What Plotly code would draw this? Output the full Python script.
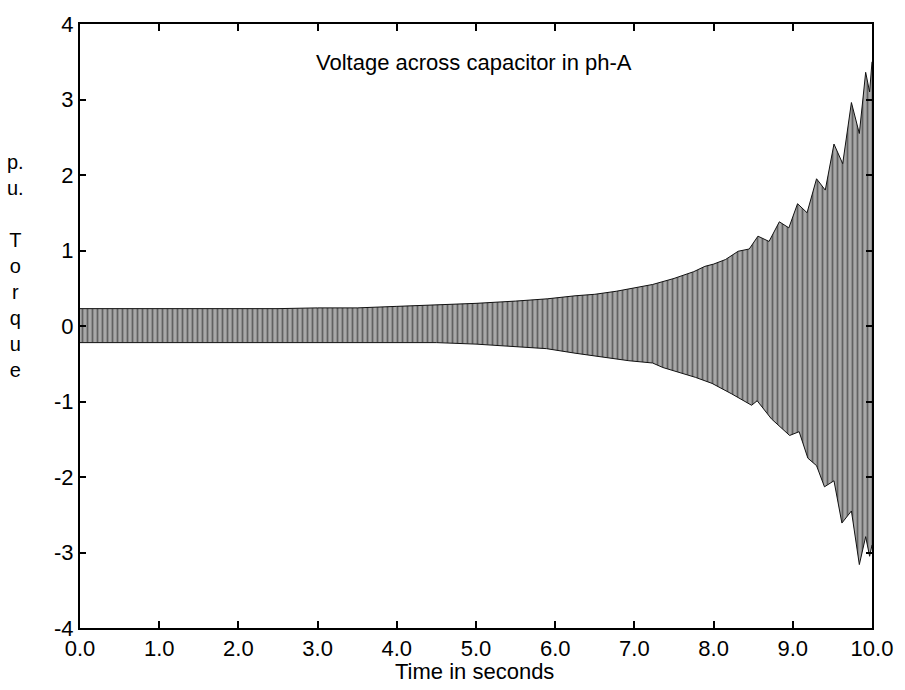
import plotly.graph_objects as go

# Envelope of the oscillating capacitor voltage
t_upper = [0.0, 0.5, 1.0, 1.5, 2.0, 2.5, 3.0, 3.5, 4.0, 4.5, 5.0, 5.5, 5.9, 6.25, 6.5,
           6.77, 7.0, 7.23, 7.5, 7.75, 7.89, 8.0, 8.15, 8.31, 8.45, 8.56, 8.7, 8.83,
           8.95, 9.06, 9.18, 9.30, 9.41, 9.52, 9.63, 9.74, 9.84, 9.92, 9.97, 10.0]
v_upper = [0.23, 0.23, 0.23, 0.23, 0.23, 0.23, 0.24, 0.24, 0.26, 0.28, 0.30, 0.33, 0.36, 0.40, 0.42,
           0.46, 0.50, 0.55, 0.63, 0.72, 0.79, 0.82, 0.88, 0.99, 1.02, 1.19, 1.12, 1.38,
           1.30, 1.62, 1.50, 1.95, 1.80, 2.41, 2.15, 2.96, 2.55, 3.36, 3.10, 3.50]

t_lower = [0.0, 0.5, 1.0, 1.5, 2.0, 2.5, 3.0, 3.5, 4.0, 4.5, 5.0, 5.5, 5.89, 6.25, 6.68,
           6.93, 7.23, 7.36, 7.77, 7.98, 8.23, 8.48, 8.55, 8.73, 8.96, 9.08, 9.19,
           9.30, 9.40, 9.52, 9.62, 9.74, 9.84, 9.92, 9.97, 10.0]
v_lower = [-0.22, -0.22, -0.22, -0.22, -0.22, -0.22, -0.22, -0.22, -0.22, -0.22, -0.24, -0.27, -0.30, -0.36, -0.42,
           -0.46, -0.49, -0.55, -0.68, -0.76, -0.90, -1.05, -0.99, -1.23, -1.45, -1.40, -1.75,
           -1.85, -2.13, -2.05, -2.61, -2.45, -3.16, -2.79, -3.05, -2.90]

x_ticks = [0, 1, 2, 3, 4, 5, 6, 7, 8, 9, 10]
x_tick_labels = ["0.0", "1.0", "2.0", "3.0", "4.0", "5.0", "6.0", "7.0", "8.0", "9.0", "10.0"]
y_ticks = [-4, -3, -2, -1, 0, 1, 2, 3, 4]
y_tick_labels = ["-4", "-3", "-2", "-1", "0", "1", "2", "3", "4"]

FONT = "Liberation Sans, Arial, sans-serif"

fig = go.Figure()
fig.add_trace(go.Scatter(x=t_lower, y=v_lower, mode="lines",
                         line=dict(color="#111111", width=1), showlegend=False))
fig.add_trace(go.Scatter(x=t_upper, y=v_upper, mode="lines", fill="tonexty",
                         fillcolor="#9a9a9a",
                         fillpattern=dict(shape="|", fgcolor="#1a1a1a", bgcolor="#a8a8a8",
                                          size=5, solidity=0.35),
                         line=dict(color="#111111", width=1), showlegend=False))

fig.update_layout(
    width=905, height=690,
    margin=dict(l=80, r=27, t=21, b=62),
    paper_bgcolor="white", plot_bgcolor="white",
    font=dict(family=FONT, size=22, color="black"),
    showlegend=False,
)
fig.update_xaxes(range=[0, 10], tickvals=x_ticks, ticktext=x_tick_labels,
                 ticks="inside", ticklen=7, tickwidth=1.5, tickcolor="black",
                 showline=True, linecolor="black", linewidth=2, mirror="ticks",
                 showgrid=False, zeroline=False,
                 tickfont=dict(family=FONT, size=22, color="black"))
fig.update_yaxes(range=[-4, 4], tickvals=y_ticks, ticktext=y_tick_labels,
                 ticks="inside", ticklen=6, tickwidth=1.5, tickcolor="black",
                 showline=True, linecolor="black", linewidth=2, mirror="ticks",
                 showgrid=False, zeroline=False,
                 tickfont=dict(family=FONT, size=22, color="black"))

fig.add_annotation(text="Voltage across capacitor in ph-A", xref="paper", yref="paper",
                   x=0.497, y=0.936, xanchor="center", yanchor="middle", showarrow=False,
                   font=dict(family=FONT, size=22, color="black"))
fig.add_annotation(text="Time in seconds", xref="paper", yref="paper",
                   x=0.498, y=-0.0725, xanchor="center", yanchor="middle", showarrow=False,
                   font=dict(family=FONT, size=22, color="black"))
fig.add_annotation(text="p.<br>u.<br> <br>T<br>o<br>r<br>q<br>u<br>e", xref="paper", yref="paper",
                   x=-0.082, y=0.6, xanchor="center", yanchor="middle", showarrow=False,
                   align="center",
                   font=dict(family=FONT, size=20, color="black"))

fig.write_html("out.html")
